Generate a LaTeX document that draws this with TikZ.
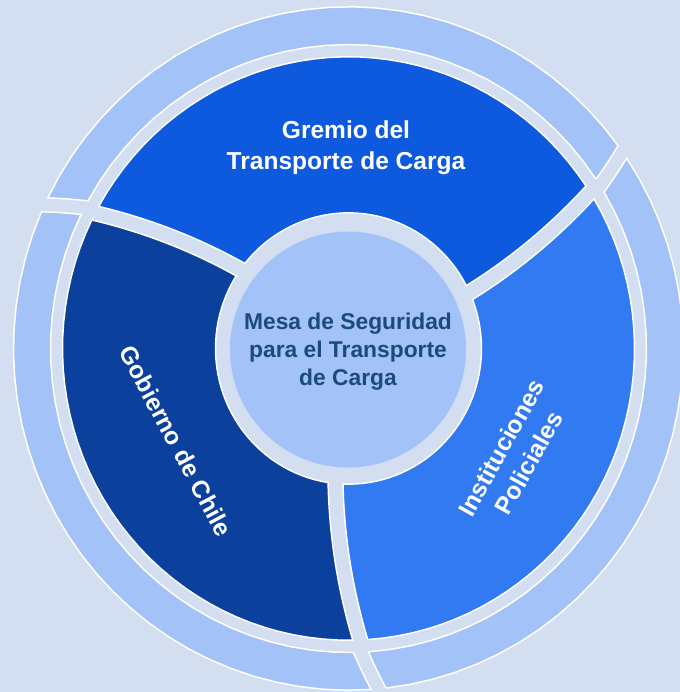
\documentclass[tikz,border=0pt]{standalone}
\usepackage{fontspec}
\setmainfont{Liberation Sans}
\definecolor{bgcol}{HTML}{D4DEF1}
\definecolor{ringcol}{HTML}{A3C2F8}
\definecolor{gremiocol}{HTML}{0D5ADF}
\definecolor{gobcol}{HTML}{0B409D}
\definecolor{policol}{HTML}{317AF1}
\definecolor{mesacol}{HTML}{1B4A7F}
\tikzset{
  part/.style={draw=white, line width=1.1pt},
  lbl/.style={text=white, align=center, font=\bfseries\fontsize{18.4}{23.6}\selectfont},
}
\begin{document}
\begin{tikzpicture}[x=0.75pt, y=0.765pt]
\fill[bgcol] (-348.5,-336.76) rectangle (331.5,341.67);
\useasboundingbox (-348.5,-336.76) rectangle (331.5,341.67);
\foreach \a/\col in {24.4/gremiocol, 144.4/gobcol, 264.4/policol}{
  \filldraw[part, fill=ringcol, samples=30]
    plot[domain=298:335] ({\a+8+0.074*(\x-298)+429.7/\x}:\x)
    -- plot[domain=\a+12.02:\a+129.455] (\x:335)
    -- plot[domain=335:298] ({\a+128+0.074*(\x-298)-429.7/\x}:\x)
    -- plot[domain=\a+126.558:\a+9.442] (\x:298) -- cycle;
  \filldraw[part, fill=\col, samples=40]
    plot[domain=133:286] ({\a+0.052*(\x-133)+429.7/\x}:\x)
    -- plot[domain=\a+9.458:\a+126.454] (\x:286)
    -- plot[domain=286:133] ({\a+120+0.052*(\x-133)-429.7/\x}:\x)
    -- plot[domain=\a+116.769:\a+3.231] (\x:133) -- cycle;
}
\fill[ringcol] (-0.5,-1) circle[radius=88.5pt];
\node[lbl] (gremio) at (-2.5,197.1) {Gremio del\\Transporte de Carga};
\node[lbl, rotate=-62] (gobierno) at (-172.5,-90.7) {Gobierno de Chile};
\node[lbl, rotate=61] (policia) at (166.5,-104.9) {Instituciones\\Policiales};
\node[text=mesacol, align=center, font=\bfseries\fontsize{17.1}{21}\selectfont] (mesa) at (-0.5,-2.7) {Mesa de Seguridad\\para el Transporte\\de Carga};
\end{tikzpicture}
\end{document}
